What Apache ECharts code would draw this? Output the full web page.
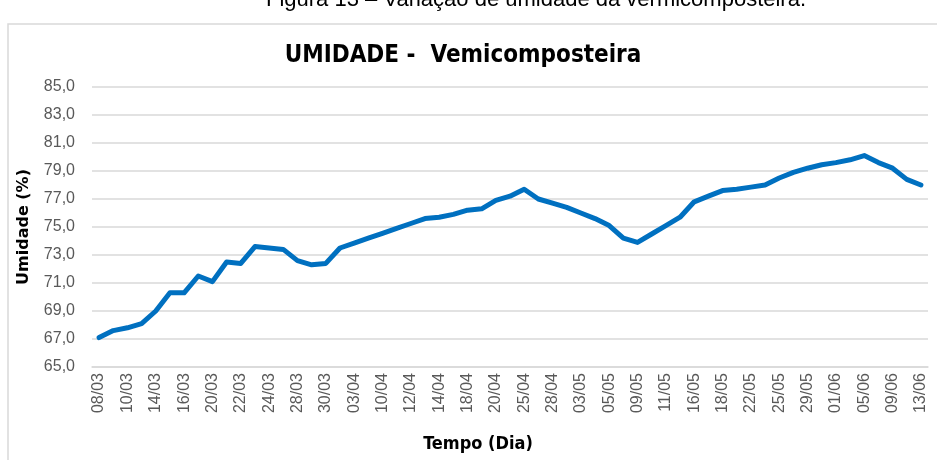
<!DOCTYPE html>
<html>
<head>
<meta charset="utf-8">
<script src="https://cdn.jsdelivr.net/npm/echarts@6/dist/echarts.min.js"></script>
<style>
html, body { margin: 0; padding: 0; background: #fff; }
#grafico_div { width: 937px; height: 460px; }
</style>
</head>
<body>
<div id="grafico_div"></div>
<script>
// datas (eixo x) - so as pares aparecem como rotulo
var dias = [
	'08/03','09/03','10/03','12/03','14/03','15/03','16/03','18/03','20/03','21/03',
	'22/03','23/03','24/03','26/03','28/03','29/03','30/03','01/04','03/04','06/04',
	'10/04','11/04','12/04','13/04','14/04','16/04','18/04','19/04','20/04','22/04',
	'25/04','27/04','28/04','01/05','03/05','04/05','05/05','07/05','09/05','10/05',
	'11/05','14/05','16/05','17/05','18/05','20/05','22/05','24/05','25/05','27/05',
	'29/05','31/05','01/06','03/06','05/06','07/06','09/06','11/06','13/06'
];
// umidade (%)
var umidade = [
	67.1, 67.6, 67.8, 68.1, 69.0, 70.3, 70.3, 71.5, 71.1, 72.5,
	72.4, 73.6, 73.5, 73.4, 72.6, 72.3, 72.4, 73.5, 73.85, 74.2,
	74.55, 74.9, 75.25, 75.6, 75.7, 75.9, 76.2, 76.3, 76.9, 77.2,
	77.7, 77.0, 76.7, 76.4, 76.0, 75.6, 75.1, 74.2, 73.9, 74.5,
	75.1, 75.7, 76.8, 77.2, 77.6, 77.7, 77.85, 78.0, 78.5, 78.9,
	79.2, 79.45, 79.6, 79.8, 80.1, 79.6, 79.2, 78.4, 78.0
];
var eixoY = { min: 65, max: 85, intervalo: 2 };

var chart = echarts.init(document.getElementById('grafico_div'));

function getOption(){
	var option = {
		animation: false,
		backgroundColor: '#fff',
		title: {
			text: 'UMIDADE -  Vemicomposteira',
			left: 458,
			top: 39,
			textAlign: 'center',
			textStyle: {
				fontFamily: 'DejaVu Sans Condensed',
				fontWeight: 'bold',
				fontSize: 24,
				color: '#000'
			}
		},
		graphic: [
			{
				type: 'rect',
				shape: { x: 8, y: 24, width: 940, height: 450 },
				style: { fill: 'none', stroke: '#d9d9d9', lineWidth: 1.5 },
				silent: true
			},
			{
				type: 'text',
				x: 536,
				y: 11,
				style: {
					text: 'Figura 13 – Variação de umidade da vermicomposteira.',
					fontFamily: 'Liberation Sans',
					fontSize: 22,
					fill: '#000',
					align: 'center',
					verticalAlign: 'bottom'
				}
			},
			{
				type: 'text',
				x: 478,
				y: 444,
				style: {
					text: 'Tempo (Dia)',
					fontFamily: 'DejaVu Sans Condensed',
					fontWeight: 'bold',
					fontSize: 18,
					fill: '#000',
					align: 'center',
					verticalAlign: 'middle'
				}
			}
		],
		grid: {
			left: 92,
			right: 9,
			top: 87,
			bottom: 93
		},
		xAxis: {
			type: 'category',
			data: dias,
			boundaryGap: true,
			axisLine: { lineStyle: { color: '#d9d9d9', width: 1.5 } },
			axisTick: { show: false },
			axisLabel: {
				interval: 1,
				rotate: 90,
				margin: 6,
				color: '#595959',
				fontFamily: 'Liberation Sans',
				fontSize: 16
			}
		},
		yAxis: {
			type: 'value',
			min: eixoY.min,
			max: eixoY.max,
			interval: eixoY.intervalo,
			name: 'Umidade (%)',
			nameLocation: 'middle',
			nameGap: 60,
			nameTextStyle: {
				fontFamily: 'DejaVu Sans',
				fontWeight: 'bold',
				fontSize: 16,
				color: '#000'
			},
			axisLine: { show: false },
			axisTick: { show: false },
			axisLabel: {
				margin: 17,
				color: '#595959',
				fontFamily: 'Liberation Sans',
				fontSize: 16,
				formatter: function (v) { return v.toFixed(1).replace('.', ','); }
			},
			splitLine: { lineStyle: { color: '#d9d9d9', width: 1.5 } }
		},
		series: [
			{
				name: 'Umidade',
				type: 'line',
				data: umidade,
				symbol: 'none',
				lineStyle: { color: '#0070c0', width: 5, cap: 'round', join: 'round' }
			}
		]
	};
	return option;
}

chart.setOption(getOption());
</script>
</body>
</html>
